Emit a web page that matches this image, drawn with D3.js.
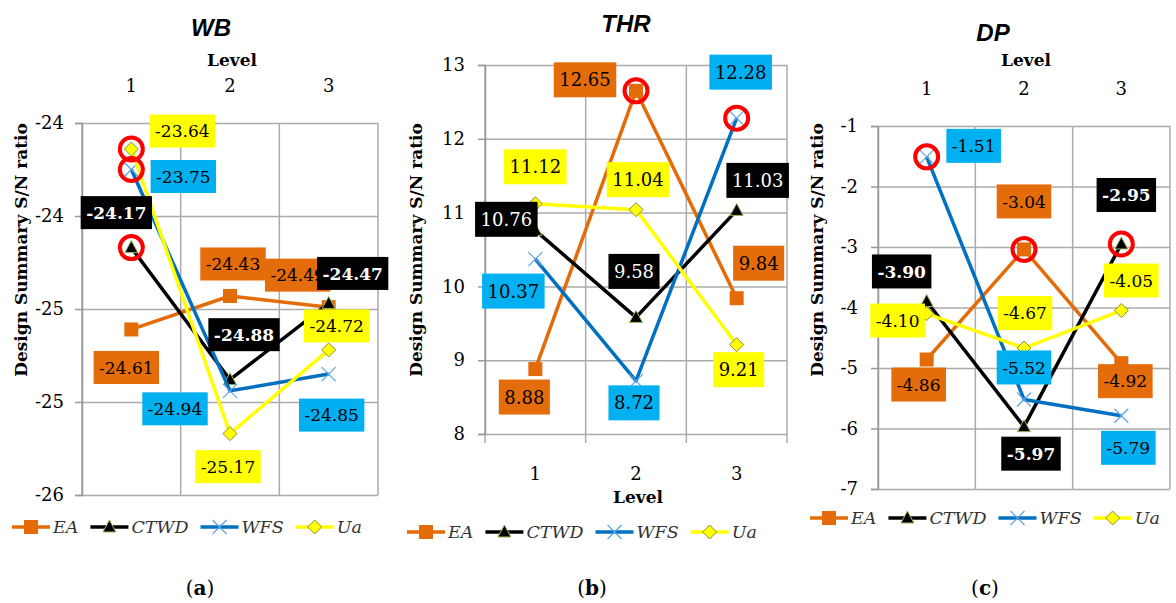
<!DOCTYPE html>
<html>
<head>
<meta charset="utf-8">
<script src="https://cdn.jsdelivr.net/npm/d3@7"></script>
<style>
  body { margin: 0; background: #fff; }
  svg { display: block; }
</style>
</head>
<body>
<svg width="1176" height="603"></svg>
<script>
// Categories
var levels = ["1", "2", "3"];
var seriesNames = ["EA", "CTWD", "WFS", "Ua"];

// WB panel values
var wbEA = [-24.61, -24.43, -24.49];
var wbCTWD = [-24.17, -24.88, -24.47];
var wbWFS = [-23.75, -24.94, -24.85];
var wbUa = [-23.64, -25.17, -24.72];
var wbTicks = [-23.5, -24, -24.5, -25, -25.5];
var wbTickLabels = ["-24", "-24", "-25", "-25", "-26"];
var wbOptimal = [["Ua", "1"], ["WFS", "1"], ["CTWD", "1"]];

// THR panel values
var thrEA = [8.88, 12.65, 9.84];
var thrCTWD = [10.76, 9.58, 11.03];
var thrWFS = [10.37, 8.72, 12.28];
var thrUa = [11.12, 11.04, 9.21];
var thrTicks = [13, 12, 11, 10, 9, 8];
var thrTickLabels = ["13", "12", "11", "10", "9", "8"];
var thrOptimal = [["EA", "2"], ["WFS", "3"]];

// DP panel values
var dpEA = [-4.86, -3.04, -4.92];
var dpCTWD = [-3.90, -5.97, -2.95];
var dpWFS = [-1.51, -5.52, -5.79];
var dpUa = [-4.10, -4.67, -4.05];
var dpTicks = [-1, -2, -3, -4, -5, -6, -7];
var dpTickLabels = ["-1", "-2", "-3", "-4", "-5", "-6", "-7"];
var dpOptimal = [["WFS", "1"], ["EA", "2"], ["CTWD", "3"]];

// Styles per series
var lineColor = { EA: "#E36C09", CTWD: "#000000", WFS: "#0070C0", Ua: "#FFFF00" };
var boxColor = { EA: "#E46C0A", CTWD: "#000000", WFS: "#00B0F0", Ua: "#FFFF00" };
var textColor = { EA: "#000", CTWD: "#fff", WFS: "#000", Ua: "#000" };

var serif = "'DejaVu Serif', serif";
var svg = d3.select("svg");

// Panel layout (label offsets in px relative to the point)
var panels = [
  {
    title: "WB", titleX: 211, titleY: 36, caption: "a", captionX: 200,
    left: 82, right: 378, top: 123, bottom: 495, domain: [-25.5, -23.5],
    ticks: wbTicks, tickLabels: wbTickLabels, tickRight: 64,
    values: { EA: wbEA, CTWD: wbCTWD, WFS: wbWFS, Ua: wbUa }, optimal: wbOptimal,
    axisTop: true, levelNumY: 92, levelTitleY: 66,
    yLabelX: 27, legendX: 12, legendY: 527, ctwdBold: true, labelSize: 17, boxH: 33,
    offsets: {
      EA: [[-5, 38], [3, -32], [-31, -32]],
      CTWD: [[-15, -35], [14, -45], [24, -30]],
      WFS: [[52, 7], [-55, 18], [3, 41]],
      Ua: [[51, -18], [-2, 33], [8, -24]]
    }
  },
  {
    title: "THR", titleX: 626, titleY: 32, caption: "b", captionX: 592,
    left: 485, right: 787, top: 65, bottom: 434, domain: [8, 13],
    ticks: thrTicks, tickLabels: thrTickLabels, tickRight: 465,
    values: { EA: thrEA, CTWD: thrCTWD, WFS: thrWFS, Ua: thrUa }, optimal: thrOptimal,
    axisTop: false, levelNumY: 480, levelTitleY: 503,
    yLabelX: 422, legendX: 407, legendY: 532, ctwdBold: false, labelSize: 18, boxH: 35,
    offsets: {
      EA: [[-11, 28], [-51, -11], [22, -35]],
      CTWD: [[-29, -11], [-2, -46], [21, -30]],
      WFS: [[-22, 32], [-2, 22], [4, -46]],
      Ua: [[0, -37], [2, -30], [2, 25]]
    }
  },
  {
    title: "DP", titleX: 993, titleY: 41, caption: "c", captionX: 985,
    left: 878, right: 1170, top: 126, bottom: 489, domain: [-7, -1],
    ticks: dpTicks, tickLabels: dpTickLabels, tickRight: 858,
    values: { EA: dpEA, CTWD: dpCTWD, WFS: dpWFS, Ua: dpUa }, optimal: dpOptimal,
    axisTop: true, levelNumY: 95, levelTitleY: 66,
    yLabelX: 823, legendX: 810, legendY: 518, ctwdBold: true, labelSize: 17, boxH: 34,
    offsets: {
      EA: [[-8, 25], [0, -48], [4, 18]],
      CTWD: [[-25, -30], [7, 27], [5, -49]],
      WFS: [[47, -11], [0, -32], [7, 32]],
      Ua: [[-29, 7], [1, -35], [10, -30]]
    }
  }
];

// Marker drawing
function drawMarker(sel, name) {
  if (name === "EA") {
    sel.append("rect").attr("x", -7).attr("y", -7).attr("width", 14).attr("height", 14)
      .attr("fill", "#E36C09");
  } else if (name === "CTWD") {
    sel.append("path").attr("d", "M0,-7L6.5,5L-6.5,5Z")
      .attr("fill", "#000").attr("stroke", "#9BBB59").attr("stroke-width", 1);
  } else if (name === "WFS") {
    sel.append("path").attr("d", "M-7,-7L7,7M7,-7L-7,7")
      .attr("stroke", "#5BA4E6").attr("stroke-width", 1.2).attr("fill", "none");
  } else {
    sel.append("path").attr("d", "M0,-7L7,0L0,7L-7,0Z")
      .attr("fill", "#FFFF00").attr("stroke", "#8C8C3C").attr("stroke-width", 1);
  }
}

panels.forEach(function (p) {
  var g = svg.append("g");
  var x = d3.scaleBand().domain(levels).range([p.left, p.right]);
  var y = d3.scaleLinear().domain(p.domain).range([p.bottom, p.top]);
  var cx = function (lv) { return x(lv) + x.bandwidth() / 2; };

  // Horizontal grid lines
  g.append("g")
    .attr("transform", "translate(" + p.left + ",0)")
    .call(d3.axisLeft(y).tickValues(p.ticks).tickFormat("").tickSize(-(p.right - p.left)))
    .call(function (a) { a.select(".domain").remove(); })
    .selectAll("line").attr("stroke", "#ABABAB").attr("stroke-width", 1.5);

  // Vertical grid lines at band edges
  var edges = levels.map(function (lv) { return x(lv); }).concat([p.right]);
  g.selectAll(".vgrid").data(edges).enter().append("line")
    .attr("x1", function (d) { return d; }).attr("x2", function (d) { return d; })
    .attr("y1", p.top).attr("y2", p.axisTop ? p.bottom : p.bottom + 9)
    .attr("stroke", "#ABABAB").attr("stroke-width", 1.5);

  // Y axis with tick labels
  var yAxis = g.append("g")
    .attr("transform", "translate(" + p.left + ",0)")
    .call(d3.axisLeft(y).tickValues(p.ticks)
      .tickFormat(function (d, i) { return p.tickLabels[i]; })
      .tickSize(7).tickPadding(p.left - p.tickRight - 7));
  yAxis.select(".domain").attr("stroke", "#999").attr("stroke-width", 1.5);
  yAxis.selectAll("line").attr("stroke", "#999").attr("stroke-width", 1.5);
  yAxis.selectAll("text").attr("font-family", serif).attr("font-size", 18).attr("fill", "#000");

  // X axis (level numbers)
  var xAxisG = g.append("g")
    .attr("transform", "translate(0," + p.levelNumY + ")")
    .call((p.axisTop ? d3.axisTop(x) : d3.axisBottom(x)).tickSize(0).tickPadding(0));
  xAxisG.select(".domain").remove();
  xAxisG.selectAll("text").attr("dy", "0em").attr("y", 0)
    .attr("font-family", serif).attr("font-size", 18).attr("fill", "#000");

  g.append("text")
    .attr("x", (p.left + p.right) / 2 + 2).attr("y", p.levelTitleY)
    .attr("text-anchor", "middle").attr("font-family", serif)
    .attr("font-weight", "bold").attr("font-size", 17).text("Level");

  // Title
  g.append("text")
    .attr("x", p.titleX).attr("y", p.titleY).attr("text-anchor", "middle")
    .attr("font-family", "'Liberation Sans', Arial, sans-serif")
    .attr("font-weight", "bold").attr("font-style", "italic").attr("font-size", 24)
    .text(p.title);

  // Y axis title
  g.append("text")
    .attr("transform", "translate(" + p.yLabelX + ",250) rotate(-90)")
    .attr("text-anchor", "middle").attr("font-family", serif)
    .attr("font-weight", "bold").attr("font-size", 17)
    .text("Design Summary S/N ratio");

  // Lines and markers
  var line = d3.line()
    .x(function (d, i) { return cx(levels[i]); })
    .y(function (d) { return y(d); });

  seriesNames.forEach(function (name) {
    var vals = p.values[name];
    g.append("path").datum(vals)
      .attr("d", line).attr("fill", "none")
      .attr("stroke", lineColor[name]).attr("stroke-width", 3.5)
      .attr("stroke-linejoin", "round");
    vals.forEach(function (v, i) {
      var m = g.append("g").attr("transform", "translate(" + cx(levels[i]) + "," + y(v) + ")");
      drawMarker(m, name);
    });
  });

  // Data labels
  seriesNames.forEach(function (name) {
    var vals = p.values[name];
    vals.forEach(function (v, i) {
      var off = p.offsets[name][i];
      var lx = cx(levels[i]) + off[0];
      var ly = y(v) + off[1];
      var lg = g.append("g");
      var t = lg.append("text")
        .attr("x", lx).attr("y", ly).attr("dy", "0.36em")
        .attr("text-anchor", "middle").attr("font-family", serif)
        .attr("font-size", p.labelSize)
        .attr("font-weight", name === "CTWD" && p.ctwdBold ? "bold" : "normal")
        .attr("fill", textColor[name])
        .text(v.toFixed(2));
      var w = t.node().getComputedTextLength() + 11;
      lg.insert("rect", "text")
        .attr("x", lx - w / 2).attr("y", ly - p.boxH / 2)
        .attr("width", w).attr("height", p.boxH)
        .attr("fill", boxColor[name]);
    });
  });

  // Red circles on optimal levels
  p.optimal.forEach(function (o) {
    var idx = levels.indexOf(o[1]);
    g.append("circle")
      .attr("cx", cx(o[1])).attr("cy", y(p.values[o[0]][idx]))
      .attr("r", 11.5).attr("fill", "none")
      .attr("stroke", "#FF0000").attr("stroke-width", 4);
  });

  // Legend
  var lx0 = p.legendX;
  seriesNames.forEach(function (name) {
    var item = g.append("g");
    item.append("line")
      .attr("x1", lx0).attr("x2", lx0 + 38)
      .attr("y1", p.legendY).attr("y2", p.legendY)
      .attr("stroke", lineColor[name]).attr("stroke-width", 3.5);
    var m = item.append("g").attr("transform", "translate(" + (lx0 + 19) + "," + p.legendY + ")");
    drawMarker(m, name);
    var t = item.append("text")
      .attr("x", lx0 + 41).attr("y", p.legendY).attr("dy", "0.36em")
      .attr("font-family", serif).attr("font-style", "italic").attr("font-size", 17.5)
      .attr("fill", "#333").text(name);
    lx0 = lx0 + 41 + t.node().getComputedTextLength() + 12;
  });

  // Caption
  var cap = g.append("text")
    .attr("x", p.captionX).attr("y", 595).attr("text-anchor", "middle")
    .attr("font-family", serif).attr("font-size", 20);
  cap.append("tspan").text("(");
  cap.append("tspan").attr("font-weight", "bold").text(p.caption);
  cap.append("tspan").text(")");
});
</script>
</body>
</html>
